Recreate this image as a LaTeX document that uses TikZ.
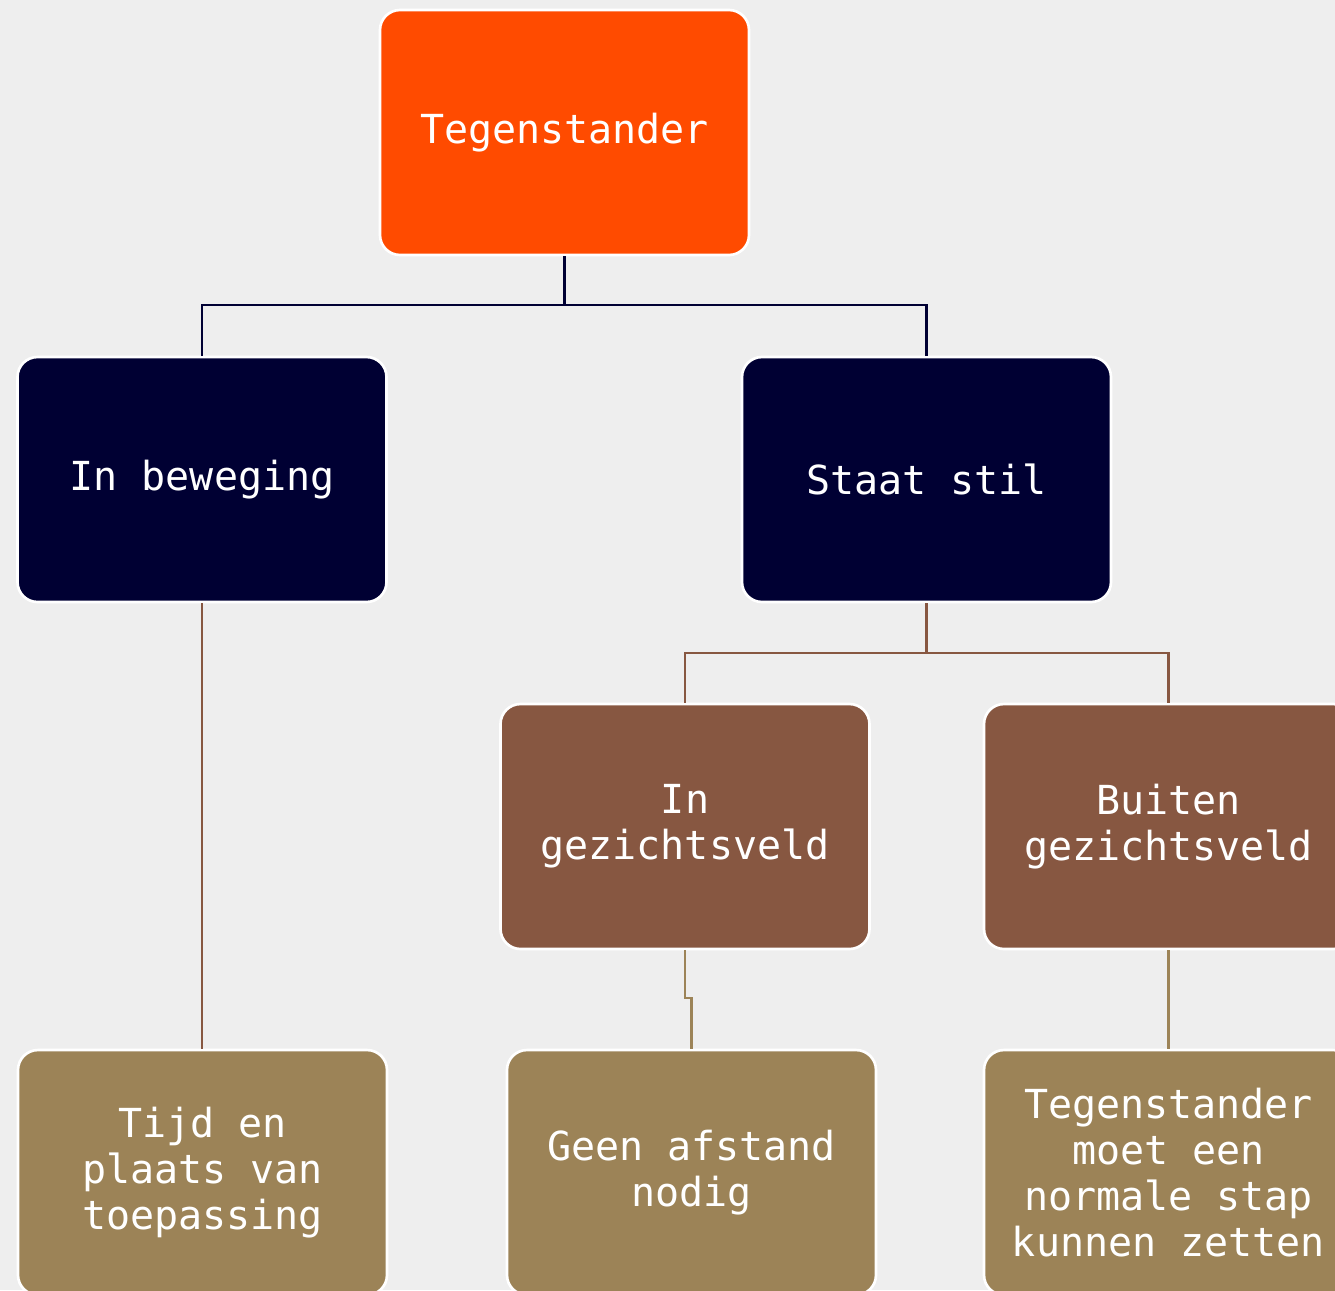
\documentclass[tikz,border=0pt]{standalone}
\usepackage{fontspec}
\setmainfont{DejaVu Sans Mono}
\definecolor{bg}{HTML}{EEEEEE}
\definecolor{oranje}{HTML}{FF4B00}
\definecolor{navy}{HTML}{000033}
\definecolor{bruin}{HTML}{875741}
\definecolor{taan}{HTML}{9C8357}
\tikzset{
  box/.style={draw=white, line width=2pt, rounded corners=15pt,
    minimum width=276.75pt, minimum height=183.75pt, inner sep=0pt,
    text=white, align=center, font=\fontsize{30}{34.5}\selectfont},
  link/.style={line width=2pt}
}
\begin{document}
\begin{tikzpicture}[x=0.75pt,y=-0.75pt]
\useasboundingbox (0,0) rectangle (1335,1290);
\clip (0,0) rectangle (1335,1290);
\fill[bg] (0,0) rectangle (1335,1290);
% nodes
\node[box, fill=oranje] (T) at (564.5,132.5) {Tegenstander};
\node[box, fill=navy] (IB) at (202,479.5) {In beweging};
\node[box, fill=navy] (SS) at (926.5,479.5) {Staat stil};
\node[box, fill=bruin] (IG) at (685,826.5) {In\\gezichtsveld};
\node[box, fill=bruin] (BG) at (1168.5,826.5) {Buiten\\gezichtsveld};
\node[box, fill=taan] (TP) at (202.5,1172.5) {Tijd en\\plaats van\\toepassing};
\node[box, fill=taan] (GA) at (691.5,1172.5) {Geen afstand\\nodig};
\node[box, fill=taan] (TM) at (1168.5,1172.5) {Tegenstander\\moet een\\normale stap\\kunnen zetten};
% connectors
\coordinate (t1) at (564.5,305);
\draw[link, navy] (T.south) -- (t1) -| (IB.north);
\draw[link, navy] (t1) -| (SS.north);
\coordinate (s1) at (926.5,653);
\draw[link, bruin] (SS.south) -- (s1) -| (IG.north);
\draw[link, bruin] (s1) -| (BG.north);
\draw[link, bruin] (IB.south) -- (IB.south |- TP.north);
\coordinate (g1) at (685,998);
\draw[link, taan] (IG.south) -- (g1) -| (GA.north);
\draw[link, taan] (BG.south) -- (TM.north);
\end{tikzpicture}
\end{document}
